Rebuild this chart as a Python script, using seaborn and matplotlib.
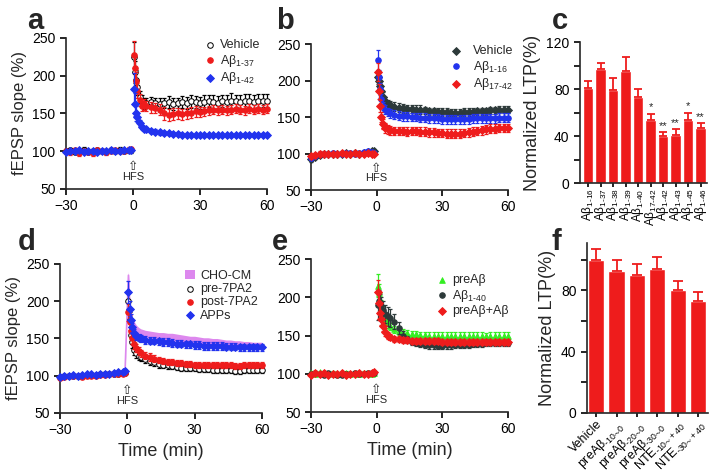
import numpy as np
import matplotlib
matplotlib.use("Agg")
import matplotlib.pyplot as plt
import seaborn as sns

sns.set_style("ticks")
plt.rcParams['font.family'] = ['Liberation Sans', 'DejaVu Sans']
plt.rcParams['mathtext.default'] = 'regular'
plt.rcParams['axes.linewidth'] = 1.2
plt.rcParams['xtick.major.width'] = 1.2
plt.rcParams['ytick.major.width'] = 1.2
plt.rcParams['ytick.minor.width'] = 1.2
plt.rcParams['xtick.color'] = 'black'
plt.rcParams['ytick.color'] = 'black'

RED = '#ee1c1c'
BLUE = '#2233ee'
VIOLET = '#dd88ee'
GREEN = '#33ee22'
SLATE = '#2d3a3a'

# time points (min)
TIME = [-30, -28, -26, -24, -22, -20, -18, -16, -14, -12, -10, -8, -6, -4, -2, -1,
        0.5, 1, 1.5, 2, 3, 4, 5, 6, 8, 10, 12, 14, 16, 18, 20, 22, 24, 26, 28, 30,
        32, 34, 36, 38, 40, 42, 44, 46, 48, 50, 52, 54, 56, 58, 60]

# panel a
a_veh = [100, 101, 99, 100, 102, 99, 100, 101, 100, 99, 101, 100, 102, 100, 101, 101,
         225, 205, 195, 185, 172, 166, 163, 164,
         165, 164, 163, 164, 165, 163, 164, 165, 164, 166, 165, 164, 165, 166, 165, 164,
         166, 165, 167, 166, 165, 166, 167, 165, 166, 167, 166]
a_veh_err = [3, 3, 3, 3, 3, 3, 3, 3, 3, 3, 3, 3, 3, 3, 3, 3,
             20, 15, 12, 10, 8, 8, 7, 7,
             7, 7, 8, 7, 8, 8, 7, 8, 8, 9, 8, 8, 9, 8, 9, 9, 8, 9, 10, 9, 9, 10, 9, 10, 10, 9, 10]
a_37 = [100, 99, 101, 98, 100, 99, 98, 101, 100, 99, 100, 101, 100, 100, 102, 103,
        228, 210, 193, 180, 168, 160, 162, 160,
        158, 157, 155, 150, 148, 149, 150, 149, 150, 151, 153, 152, 153, 154, 155, 154,
        155, 154, 155, 156, 155, 154, 156, 155, 156, 155, 156]
a_37_err = [3, 4, 3, 4, 3, 3, 4, 3, 3, 4, 3, 3, 3, 3, 3, 3,
            18, 15, 12, 10, 8, 7, 7, 7,
            7, 7, 7, 8, 8, 8, 7, 7, 7, 7, 7, 6, 6, 6, 6, 6, 6, 6, 6, 6, 6, 6, 6, 6, 6, 6, 6]
a_42 = [99, 100, 100, 101, 99, 100, 100, 99, 100, 100, 101, 100, 100, 101, 101, 102,
        183, 162, 150, 145, 138, 132, 130, 129,
        127, 126, 125, 124, 124, 123, 123, 122, 122, 122, 121, 121, 121, 121, 121, 121,
        121, 121, 121, 122, 121, 122, 122, 121, 122, 122, 122]
a_42_err = [2, 2, 2, 2, 2, 2, 2, 2, 2, 2, 2, 2, 2, 2, 2, 2,
            20, 15, 10, 6, 4, 3, 3, 3,
            3, 3, 3, 3, 2, 2, 2, 2, 2, 2, 2, 2, 2, 2, 2, 2, 2, 2, 2, 2, 2, 2, 2, 2, 2, 2, 2]

# panel b
b_veh = [92, 95, 98, 99, 100, 99, 100, 100, 101, 100, 101, 100, 101, 102, 103, 104,
         205, 200, 192, 185, 178, 172, 168, 166,
         164, 163, 162, 161, 161, 160, 160, 159, 158, 158, 157, 157, 157, 156, 156, 156,
         157, 157, 157, 158, 158, 158, 159, 159, 160, 160, 160]
b_veh_err = [3, 3, 3, 2, 2, 2, 2, 2, 2, 2, 2, 2, 2, 2, 2, 2,
             10, 8, 8, 7, 6, 6, 6, 6,
             6, 6, 6, 6, 6, 6, 6, 5, 5, 5, 5, 5, 5, 5, 5, 5, 5, 5, 5, 5, 5, 5, 5, 5, 5, 5, 5]
b_16 = [94, 97, 99, 100, 100, 101, 100, 100, 101, 101, 100, 101, 102, 103, 102, 101,
        228, 205, 188, 175, 165, 160, 157, 155,
        153, 152, 151, 151, 150, 150, 149, 149, 148, 148, 148, 147, 147, 147, 147, 147,
        147, 147, 148, 148, 148, 148, 148, 148, 149, 149, 149]
b_16_err = [3, 3, 2, 2, 2, 2, 2, 2, 2, 2, 2, 2, 2, 2, 2, 2,
            14, 10, 8, 7, 6, 6, 6, 6,
            6, 6, 6, 6, 6, 6, 6, 6, 6, 6, 6, 6, 6, 6, 6, 6, 6, 6, 6, 6, 6, 6, 6, 6, 6, 6, 6]
b_1742 = [96, 98, 100, 100, 99, 100, 100, 101, 100, 100, 101, 100, 100, 101, 100, 100,
          212, 185, 165, 150, 140, 135, 133, 132,
          131, 131, 131, 130, 131, 131, 130, 130, 129, 129, 128, 128, 127, 127, 127, 127,
          128, 129, 130, 131, 132, 133, 134, 134, 135, 135, 135]
b_1742_err = [3, 3, 3, 2, 2, 2, 2, 2, 2, 2, 2, 2, 2, 2, 2, 2,
              12, 10, 8, 7, 7, 7, 6, 6,
              6, 6, 6, 6, 6, 6, 6, 6, 6, 6, 6, 6, 6, 6, 6, 6, 6, 6, 6, 6, 6, 6, 6, 6, 6, 6, 6]

# panel c
c_labels = ['Aβ$_{1‐16}$', 'Aβ$_{1‐37}$', 'Aβ$_{1‐38}$', 'Aβ$_{1‐39}$', 'Aβ$_{1‐40}$',
            'Aβ$_{17‐42}$', 'Aβ$_{1‐42}$', 'Aβ$_{1‐43}$', 'Aβ$_{1‐45}$', 'Aβ$_{1‐46}$']
c_means = [81, 97, 79, 95, 73, 54, 40, 41, 54, 47]
c_err = [6, 5, 10, 12, 7, 5, 3, 5, 6, 4]
c_stars = ['', '', '', '', '', '*', '**', '**', '*', '**']

# panel d
d_cho = [98, 99, 100, 100, 101, 101, 102, 102, 102, 103, 103, 104, 104, 105, 105, 106,
         235, 200, 185, 175, 168, 163, 160, 158,
         156, 155, 154, 153, 153, 152, 152, 151, 150, 149, 148, 148, 147, 146, 146, 145,
         145, 144, 143, 143, 142, 142, 141, 141, 140, 140, 140]
d_cho_err = [2, 2, 2, 2, 2, 2, 2, 2, 2, 2, 2, 2, 2, 2, 2, 2,
             5, 8, 6, 5, 5, 5, 5, 5,
             5, 5, 5, 5, 5, 5, 5, 5, 5, 5, 5, 5, 5, 5, 5, 5, 5, 5, 5, 5, 5, 5, 5, 5, 5, 5, 5]
d_pre = [98, 99, 100, 100, 100, 100, 101, 101, 101, 102, 102, 103, 103, 103, 104, 104,
         200, 175, 155, 145, 135, 130, 127, 125,
         122, 120, 118, 116, 115, 114, 113, 112, 111, 111, 110, 110, 109, 109, 109, 108,
         108, 108, 108, 108, 107, 107, 108, 108, 108, 108, 108]
d_pre_err = [2, 2, 2, 2, 2, 2, 2, 2, 2, 2, 2, 2, 2, 2, 2, 2,
             12, 10, 9, 8, 7, 6, 6, 5,
             5, 5, 5, 5, 5, 5, 4, 4, 4, 4, 4, 4, 4, 4, 4, 4, 4, 4, 4, 4, 4, 4, 4, 4, 4, 4, 4]
d_post = [97, 98, 99, 100, 99, 98, 99, 100, 100, 101, 101, 102, 102, 103, 103, 104,
          185, 172, 160, 150, 142, 137, 133, 130,
          127, 125, 123, 121, 120, 119, 118, 117, 117, 116, 116, 115, 115, 115, 114, 114,
          114, 114, 114, 114, 113, 113, 114, 114, 114, 114, 114]
d_post_err = [2, 2, 2, 2, 2, 2, 2, 2, 2, 2, 2, 2, 2, 2, 2, 2,
              12, 10, 8, 7, 6, 5, 5, 5,
              5, 5, 5, 4, 4, 4, 4, 4, 4, 4, 4, 4, 4, 4, 4, 4, 4, 4, 4, 4, 4, 4, 4, 4, 4, 4, 4]
d_apps = [98, 99, 100, 101, 100, 101, 102, 102, 101, 102, 103, 103, 104, 105, 105, 107,
          212, 190, 175, 165, 158, 153, 151, 150,
          148, 147, 147, 146, 145, 145, 144, 143, 143, 142, 142, 141, 141, 140, 140, 140,
          140, 140, 139, 139, 139, 138, 138, 138, 138, 138, 138]
d_apps_err = [2, 2, 2, 2, 2, 2, 2, 2, 2, 2, 2, 2, 2, 2, 2, 2,
              15, 10, 8, 6, 5, 5, 5, 5,
              5, 5, 5, 5, 5, 5, 5, 5, 5, 5, 5, 5, 5, 5, 5, 5, 5, 5, 5, 5, 5, 5, 5, 5, 5, 5, 5]

# panel e
e_pre = [101, 100, 102, 101, 100, 101, 100, 100, 101, 100, 101, 100, 101, 101, 100, 101,
         215, 205, 195, 188, 180, 172, 166, 162,
         158, 156, 154, 153, 152, 152, 151, 151, 150, 150, 150, 150, 150, 150, 150, 150,
         150, 150, 150, 150, 150, 149, 150, 150, 150, 150, 150]
e_pre_err = [2, 2, 2, 2, 2, 2, 2, 2, 2, 2, 2, 2, 2, 2, 2, 2,
             15, 12, 10, 9, 8, 7, 6, 5,
             5, 5, 4, 4, 4, 4, 4, 4, 4, 4, 4, 4, 4, 4, 4, 4, 4, 4, 4, 4, 4, 4, 4, 4, 4, 4, 4]
e_40 = [100, 101, 100, 99, 101, 100, 98, 99, 100, 100, 101, 100, 100, 101, 101, 101,
        190, 195, 192, 188, 183, 178, 175, 173,
        168, 160, 150, 145, 141, 140, 139, 138, 137, 137, 136, 136, 137, 137, 138, 138,
        138, 138, 139, 139, 139, 140, 140, 140, 140, 140, 140]
e_40_err = [2, 2, 2, 2, 2, 2, 2, 2, 2, 2, 2, 2, 2, 2, 2, 2,
            20, 15, 12, 12, 12, 12, 12, 12,
            10, 8, 6, 5, 4, 4, 4, 4, 4, 4, 4, 4, 4, 4, 4, 4, 4, 4, 4, 4, 4, 4, 4, 4, 4, 4, 4]
e_both = [99, 101, 100, 101, 99, 100, 100, 101, 99, 100, 100, 101, 100, 100, 101, 102,
          207, 192, 180, 172, 162, 155, 150, 148,
          146, 145, 144, 144, 143, 143, 143, 143, 143, 143, 143, 142, 142, 142, 142, 142,
          142, 142, 142, 142, 142, 142, 142, 142, 142, 142, 142]
e_both_err = [2, 2, 2, 2, 2, 2, 2, 2, 2, 2, 2, 2, 2, 2, 2, 2,
              15, 12, 10, 8, 6, 5, 5, 4,
              4, 4, 4, 4, 4, 4, 4, 4, 4, 4, 4, 4, 4, 4, 4, 4, 4, 4, 4, 4, 4, 4, 4, 4, 4, 4, 4]

# panel f
f_labels = ['Vehicle', 'preAβ$_{‐10∼0}$', 'preAβ$_{‐20∼0}$', 'preAβ$_{‐30∼0}$',
            'NTE$_{‐10∼+40}$', 'NTE$_{‐30∼+40}$']
f_means = [100, 93, 90, 94, 80, 73]
f_err = [7, 7, 7, 8, 6, 6]


def draw_series(ax, y, err, color, marker, label, face=None, z=3):
    ax.errorbar(TIME, y, yerr=err, fmt='none', ecolor=color, elinewidth=0.9,
                capsize=1.5, capthick=0.9, zorder=z, clip_on=False)
    sns.scatterplot(x=TIME, y=y, ax=ax, marker=marker, s=16,
                    color=face if face else color, edgecolor=color, linewidth=0.7,
                    label=label, zorder=z + 0.5, clip_on=False)


def time_axes(ax, xlabel=False):
    ax.set_xlim(-30, 60)
    ax.set_ylim(50, 250)
    ax.set_xticks([-30, 0, 30, 60])
    ax.set_yticks([50, 100, 150, 200, 250])
    ax.tick_params(labelsize=10, length=4)
    sns.despine(ax=ax)
    ax.text(0, 80, '⇧', ha='center', va='center', fontsize=9, family='DejaVu Sans')
    ax.text(0, 66, 'HFS', ha='center', va='center', fontsize=8)
    if xlabel:
        ax.set_xlabel('Time (min)', fontsize=13)


def legend(ax, x, y, pad=0.4):
    ax.legend(loc='upper left', bbox_to_anchor=(x, y), frameon=False, fontsize=9,
              handlelength=0.8, handletextpad=pad, labelspacing=0.1,
              borderpad=0, borderaxespad=0)


fig = plt.figure(figsize=(7.09, 4.70), dpi=100)

# a
ax = fig.add_axes([0.0931, 0.5979, 0.2835, 0.3213])
draw_series(ax, a_veh, a_veh_err, 'black', 'o', 'Vehicle', face='white')
draw_series(ax, a_37, a_37_err, RED, 'o', 'Aβ$_{1‐37}$', z=4)
draw_series(ax, a_42, a_42_err, BLUE, 'D', 'Aβ$_{1‐42}$', z=5)
time_axes(ax)
ax.set_ylabel('fEPSP slope (%)', fontsize=12)
legend(ax, 0.69, 0.99)

# b
ax = fig.add_axes([0.4386, 0.5957, 0.2779, 0.3106])
draw_series(ax, b_veh, b_veh_err, SLATE, 'D', 'Vehicle')
draw_series(ax, b_16, b_16_err, BLUE, 'o', 'Aβ$_{1‐16}$', z=4)
draw_series(ax, b_1742, b_1742_err, RED, 'D', 'Aβ$_{17‐42}$', z=5)
time_axes(ax)
legend(ax, 0.71, 0.99, pad=1.0)

# c
ax = fig.add_axes([0.818, 0.6106, 0.179, 0.30])
sns.barplot(x=c_labels, y=c_means, color=RED, saturation=1, width=0.85,
            errorbar=None, ax=ax)
ax.errorbar(range(len(c_means)), c_means, yerr=[np.zeros(len(c_err)), c_err],
            fmt='none', ecolor=RED, elinewidth=1.3, capsize=3, capthick=1.3)
for i, s in enumerate(c_stars):
    if s:
        ax.text(i, c_means[i] + c_err[i] + 1, s, ha='center', va='bottom', fontsize=8)
ax.set_ylim(0, 120)
ax.set_xlim(-0.65, 9.5)
ax.set_yticks([0, 40, 80, 120])
ax.set_yticks([20, 60, 100], minor=True)
ax.tick_params(axis='y', which='both', length=4, labelsize=10)
ax.tick_params(axis='x', rotation=90, labelsize=8.5, length=3, pad=1)
ax.set_ylabel('Normalized LTP(%)', fontsize=13)
sns.despine(ax=ax)

# d
ax = fig.add_axes([0.0846, 0.1213, 0.2849, 0.317])
ax.fill_between(TIME, np.array(d_cho) - np.array(d_cho_err),
                np.array(d_cho) + np.array(d_cho_err), color=VIOLET, lw=0,
                label='CHO-CM', zorder=2)
ax.plot(TIME, d_cho, color=VIOLET, lw=1.2, zorder=2)
draw_series(ax, d_pre, d_pre_err, 'black', 'o', 'pre-7PA2', face='white')
draw_series(ax, d_post, d_post_err, RED, 'o', 'post-7PA2', z=4)
draw_series(ax, d_apps, d_apps_err, BLUE, 'D', 'APPs', z=5)
time_axes(ax, xlabel=True)
ax.set_ylabel('fEPSP slope (%)', fontsize=12)
legend(ax, 0.62, 0.96)

# e
ax = fig.add_axes([0.4386, 0.1234, 0.2779, 0.3255])
draw_series(ax, e_pre, e_pre_err, GREEN, '^', 'preAβ')
draw_series(ax, e_40, e_40_err, SLATE, 'o', 'Aβ$_{1‐40}$', z=4)
draw_series(ax, e_both, e_both_err, RED, 'D', 'preAβ+Aβ', z=5)
time_axes(ax, xlabel=True)
legend(ax, 0.64, 0.90)

# f
ax = fig.add_axes([0.8279, 0.1213, 0.171, 0.3617])
sns.barplot(x=f_labels, y=f_means, color=RED, saturation=1, width=0.8,
            errorbar=None, ax=ax)
ax.errorbar(range(len(f_means)), f_means, yerr=[np.zeros(len(f_err)), f_err],
            fmt='none', ecolor=RED, elinewidth=1.3, capsize=3.5, capthick=1.3)
ax.set_ylim(0, 111)
ax.set_xlim(-0.45, 5.5)
ax.set_yticks([0, 40, 80])
ax.set_yticks([20, 60, 100], minor=True)
ax.tick_params(axis='y', which='both', length=4, labelsize=10)
ax.tick_params(axis='x', length=3, labelsize=9, pad=1)
plt.setp(ax.get_xticklabels(), rotation=45, ha='right', rotation_mode='anchor')
ax.set_ylabel('Normalized LTP(%)', fontsize=13)
sns.despine(ax=ax)

# panel letters
for letter, x, y in [('a', 0.038, 0.985), ('b', 0.39, 0.985), ('c', 0.778, 0.985),
                     ('d', 0.025, 0.515), ('e', 0.383, 0.515), ('f', 0.778, 0.515)]:
    fig.text(x, y, letter, fontsize=21, fontweight='bold', va='top')

fig.savefig('out.png', dpi=100)
